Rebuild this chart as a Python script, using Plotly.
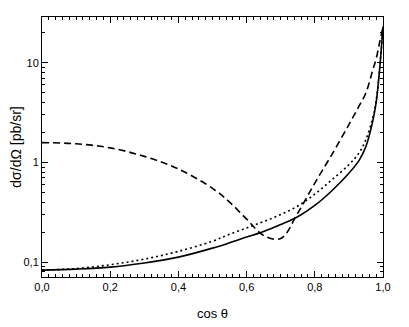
import plotly.graph_objects as go

# cos(theta) grid and the three cross-section curves (pb/sr)
cos_theta = [0.0, 0.1, 0.2, 0.3, 0.4, 0.5, 0.55, 0.6, 0.65, 0.7, 0.75, 0.8,
             0.85, 0.9, 0.93, 0.95, 0.97, 0.98, 0.99, 1.0]
solid_vals = [0.083, 0.085, 0.089, 0.098, 0.112, 0.138, 0.156, 0.178, 0.203,
              0.238, 0.285, 0.37, 0.52, 0.78, 1.05, 1.45, 2.6, 4.0, 8.5, 23.0]
dotted_vals = [0.083, 0.086, 0.094, 0.107, 0.128, 0.162, 0.19, 0.220, 0.255,
               0.30, 0.365, 0.48, 0.67, 0.95, 1.25, 1.7, 2.8, 4.2, 8.7, 23.0]
dashed_vals = [1.58, 1.54, 1.40, 1.15, 0.86, 0.55, 0.40, 0.27, 0.185, 0.172,
               0.31, 0.62, 1.2, 2.4, 3.7, 5.0, 8.5, 11.0, 16.0, 23.0]

x_major = [0.0, 0.2, 0.4, 0.6, 0.8, 1.0]
x_major_text = ["0,0", "0,2", "0,4", "0,6", "0,8", "1,0"]
x_minor = [i / 50 for i in range(51)]
y_major = [0.1, 1, 10]
y_major_text = ["0,1", "1", "10"]
y_minor = [m * 10 ** e for e in (-2, -1, 0, 1) for m in range(1, 10)]

X_RANGE = [0, 1]
Y_RANGE = [-1.15, 1.46]
FONT = "Liberation Sans, Arial"

fig = go.Figure()
for vals, dash in [(solid_vals, "solid"), (dotted_vals, "2px,3px"), (dashed_vals, "7px,4px")]:
    fig.add_trace(go.Scatter(
        x=cos_theta, y=vals, mode="lines", line_shape="spline",
        line=dict(color="black", width=1.6, dash=dash), showlegend=False))

axis_common = dict(
    showline=True, linecolor="black", linewidth=1, mirror="ticks",
    ticks="inside", tickwidth=1, tickcolor="black",
    showgrid=False, zeroline=False, automargin=False,
    tickfont=dict(family=FONT, size=11, color="black"),
)

# main axes: long ticks with labels
fig.update_layout(
    xaxis=dict(**axis_common, range=X_RANGE, ticklen=6, tickmode="array",
               tickvals=x_major, ticktext=x_major_text,
               title=dict(text="cos θ", font=dict(family=FONT, size=13, color="black"), standoff=16)),
    yaxis=dict(**axis_common, type="log", range=Y_RANGE, ticklen=6, tickmode="array",
               tickvals=y_major, ticktext=y_major_text,
               title=dict(text="dσ/dΩ [pb/sr]", font=dict(family=FONT, size=14, color="black"), standoff=11)),
    # overlay axes just for the short (minor) ticks
    xaxis2=dict(**axis_common, range=X_RANGE, ticklen=3, tickmode="array", tickvals=x_minor,
                showticklabels=False, overlaying="x", anchor="y"),
    yaxis2=dict(**axis_common, type="log", range=Y_RANGE, ticklen=3, tickmode="array",
                tickvals=y_minor, showticklabels=False, overlaying="y", anchor="x"),
)
# invisible trace so the overlay axes get drawn
fig.add_trace(go.Scatter(x=[None], y=[None], xaxis="x2", yaxis="y2", showlegend=False,
                         hoverinfo="skip"))

# page body adds an 8px offset, margins compensate for it
fig.update_layout(
    width=409, height=327,
    margin=dict(l=34, r=34, t=9, b=58),
    plot_bgcolor="white", paper_bgcolor="white",
)
fig.write_html("out.html")
